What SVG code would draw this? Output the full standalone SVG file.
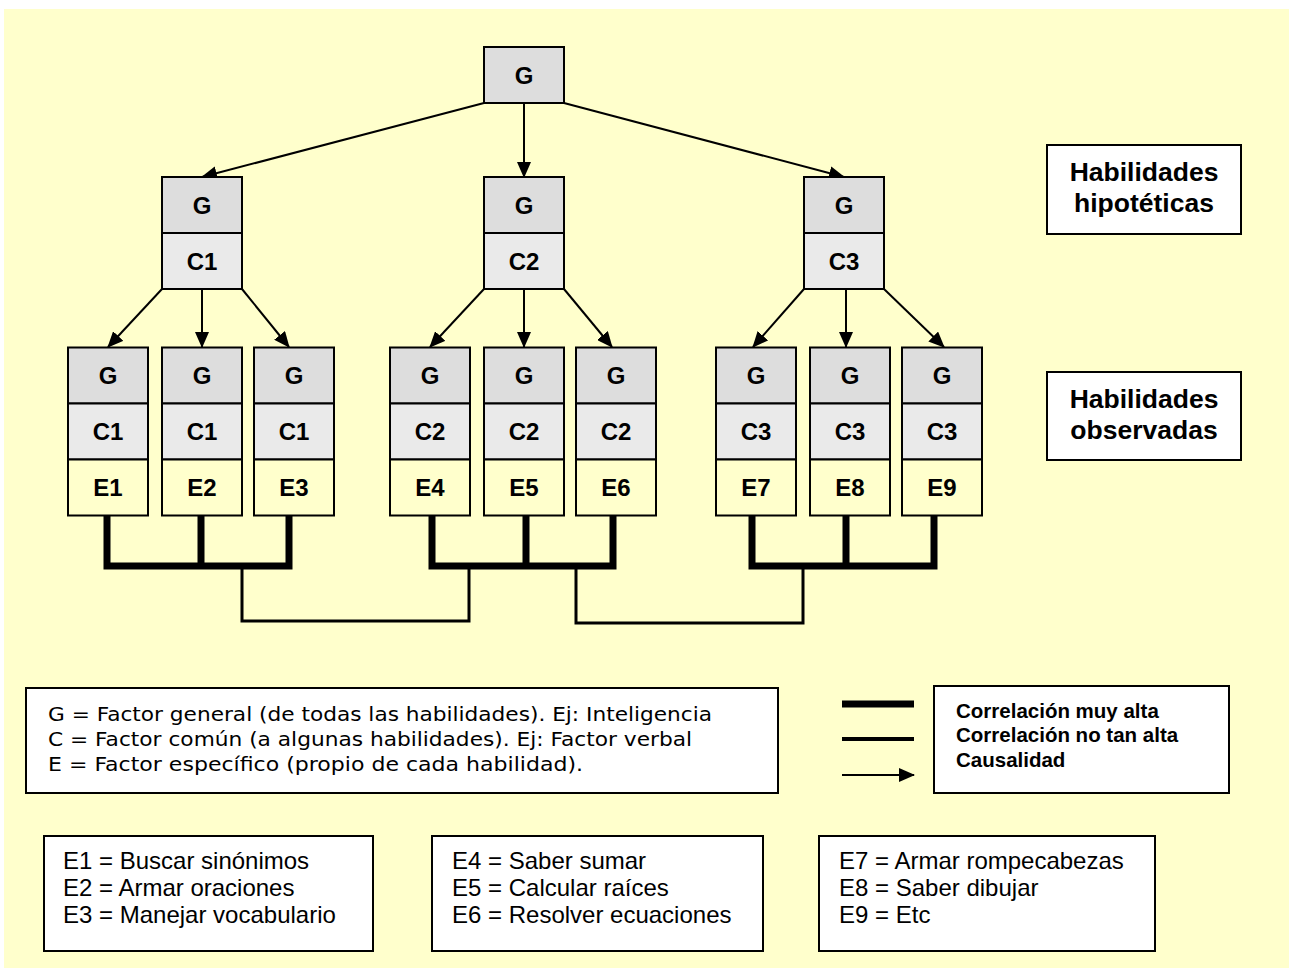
<svg xmlns="http://www.w3.org/2000/svg" width="1289" height="968" viewBox="0 0 1289 968">
<defs>
<style>
.bg{fill:#FFFFCC}
.g{fill:#DDDDDD;stroke:#000;stroke-width:2}
.c{fill:#EAEAEA;stroke:#000;stroke-width:2}
.e{fill:#FFFFCC;stroke:#000;stroke-width:2}
.box{fill:#FFFFFF;stroke:#000;stroke-width:2}
.lbl{font-family:"Liberation Sans",Arial,sans-serif;font-weight:bold;font-size:24px;text-anchor:middle;fill:#000}
.hab{font-family:"Liberation Sans",Arial,sans-serif;font-weight:bold;font-size:26.5px;text-anchor:middle;fill:#000}
.leg{font-family:"DejaVu Sans",Verdana,sans-serif;font-size:20px;fill:#000}
.corr{font-family:"Liberation Sans",Arial,sans-serif;font-weight:bold;font-size:20.5px;fill:#000}
.ex{font-family:"Liberation Sans",Arial,sans-serif;font-size:24px;fill:#000}
.arrow{stroke:#000;stroke-width:2;fill:none;marker-end:url(#ah)}
.thick{stroke:#000;stroke-width:7;fill:none;stroke-linecap:square}
.thin{stroke:#000;stroke-width:3;fill:none;stroke-linecap:square}
</style>
<marker id="ah" markerUnits="userSpaceOnUse" markerWidth="16" markerHeight="14" refX="15" refY="7" orient="auto">
<path d="M0,0 L16,7 L0,14 Z" fill="#000"/>
</marker>
</defs>
<rect class="bg" x="4" y="9" width="1285" height="959"/>

<g id="connectors">
<line class="arrow" x1="484" y1="103" x2="202" y2="177"/>
<line class="arrow" x1="524" y1="103" x2="524" y2="177"/>
<line class="arrow" x1="564" y1="103" x2="844" y2="177"/>
<line class="arrow" x1="162" y1="289" x2="108" y2="347"/>
<line class="arrow" x1="202" y1="289" x2="202" y2="347"/>
<line class="arrow" x1="242" y1="289" x2="289" y2="347"/>
<line class="arrow" x1="484" y1="289" x2="430" y2="347"/>
<line class="arrow" x1="524" y1="289" x2="524" y2="347"/>
<line class="arrow" x1="564" y1="289" x2="612" y2="347"/>
<line class="arrow" x1="804" y1="289" x2="753" y2="347"/>
<line class="arrow" x1="846" y1="289" x2="846" y2="347"/>
<line class="arrow" x1="884" y1="289" x2="944" y2="347"/>
<path class="thick" d="M107,518 V566 H289 V518 M201,518 V566"/>
<path class="thick" d="M432,518 V566 H613 V518 M526,518 V566"/>
<path class="thick" d="M752,518 V566 H934 V518 M846,518 V566"/>
<path class="thin" d="M242,570 V621 H469 V570"/>
<path class="thin" d="M576,570 V623 H803 V570"/>
</g>

<g id="top">
<rect class="g" x="484" y="47" width="80" height="56"/>
<text class="lbl" x="524" y="84">G</text>
</g>

<g id="mid1">
<rect class="g" x="162" y="177" width="80" height="56"/>
<rect class="c" x="162" y="233" width="80" height="56"/>
<text class="lbl" x="202" y="214">G</text>
<text class="lbl" x="202" y="270">C1</text>
</g>
<g id="mid2">
<rect class="g" x="484" y="177" width="80" height="56"/>
<rect class="c" x="484" y="233" width="80" height="56"/>
<text class="lbl" x="524" y="214">G</text>
<text class="lbl" x="524" y="270">C2</text>
</g>
<g id="mid3">
<rect class="g" x="804" y="177" width="80" height="56"/>
<rect class="c" x="804" y="233" width="80" height="56"/>
<text class="lbl" x="844" y="214">G</text>
<text class="lbl" x="844" y="270">C3</text>
</g>

<g id="obs1">
<rect class="g" x="68" y="347.5" width="80" height="56"/>
<rect class="c" x="68" y="403.5" width="80" height="56"/>
<rect class="e" x="68" y="459.5" width="80" height="56"/>
<text class="lbl" x="108" y="384">G</text>
<text class="lbl" x="108" y="440">C1</text>
<text class="lbl" x="108" y="496">E1</text>
</g>
<g id="obs2">
<rect class="g" x="162" y="347.5" width="80" height="56"/>
<rect class="c" x="162" y="403.5" width="80" height="56"/>
<rect class="e" x="162" y="459.5" width="80" height="56"/>
<text class="lbl" x="202" y="384">G</text>
<text class="lbl" x="202" y="440">C1</text>
<text class="lbl" x="202" y="496">E2</text>
</g>
<g id="obs3">
<rect class="g" x="254" y="347.5" width="80" height="56"/>
<rect class="c" x="254" y="403.5" width="80" height="56"/>
<rect class="e" x="254" y="459.5" width="80" height="56"/>
<text class="lbl" x="294" y="384">G</text>
<text class="lbl" x="294" y="440">C1</text>
<text class="lbl" x="294" y="496">E3</text>
</g>
<g id="obs4">
<rect class="g" x="390" y="347.5" width="80" height="56"/>
<rect class="c" x="390" y="403.5" width="80" height="56"/>
<rect class="e" x="390" y="459.5" width="80" height="56"/>
<text class="lbl" x="430" y="384">G</text>
<text class="lbl" x="430" y="440">C2</text>
<text class="lbl" x="430" y="496">E4</text>
</g>
<g id="obs5">
<rect class="g" x="484" y="347.5" width="80" height="56"/>
<rect class="c" x="484" y="403.5" width="80" height="56"/>
<rect class="e" x="484" y="459.5" width="80" height="56"/>
<text class="lbl" x="524" y="384">G</text>
<text class="lbl" x="524" y="440">C2</text>
<text class="lbl" x="524" y="496">E5</text>
</g>
<g id="obs6">
<rect class="g" x="576" y="347.5" width="80" height="56"/>
<rect class="c" x="576" y="403.5" width="80" height="56"/>
<rect class="e" x="576" y="459.5" width="80" height="56"/>
<text class="lbl" x="616" y="384">G</text>
<text class="lbl" x="616" y="440">C2</text>
<text class="lbl" x="616" y="496">E6</text>
</g>
<g id="obs7">
<rect class="g" x="716" y="347.5" width="80" height="56"/>
<rect class="c" x="716" y="403.5" width="80" height="56"/>
<rect class="e" x="716" y="459.5" width="80" height="56"/>
<text class="lbl" x="756" y="384">G</text>
<text class="lbl" x="756" y="440">C3</text>
<text class="lbl" x="756" y="496">E7</text>
</g>
<g id="obs8">
<rect class="g" x="810" y="347.5" width="80" height="56"/>
<rect class="c" x="810" y="403.5" width="80" height="56"/>
<rect class="e" x="810" y="459.5" width="80" height="56"/>
<text class="lbl" x="850" y="384">G</text>
<text class="lbl" x="850" y="440">C3</text>
<text class="lbl" x="850" y="496">E8</text>
</g>
<g id="obs9">
<rect class="g" x="902" y="347.5" width="80" height="56"/>
<rect class="c" x="902" y="403.5" width="80" height="56"/>
<rect class="e" x="902" y="459.5" width="80" height="56"/>
<text class="lbl" x="942" y="384">G</text>
<text class="lbl" x="942" y="440">C3</text>
<text class="lbl" x="942" y="496">E9</text>
</g>

<g id="hipoteticas">
<rect class="box" x="1047" y="145" width="194" height="89"/>
<text class="hab" x="1144" y="181">Habilidades</text>
<text class="hab" x="1144" y="212">hipotéticas</text>
</g>
<g id="observadas">
<rect class="box" x="1047" y="372" width="194" height="88"/>
<text class="hab" x="1144" y="408">Habilidades</text>
<text class="hab" x="1144" y="439">observadas</text>
</g>

<g id="legend-factors">
<rect class="box" x="26" y="688" width="752" height="105"/>
<text class="leg" x="48" y="721" textLength="664" lengthAdjust="spacingAndGlyphs">G = Factor general (de todas las habilidades). Ej: Inteligencia</text>
<text class="leg" x="48" y="746" textLength="644" lengthAdjust="spacingAndGlyphs">C = Factor común (a algunas habilidades). Ej: Factor verbal</text>
<text class="leg" x="48" y="771" textLength="535" lengthAdjust="spacingAndGlyphs">E = Factor específico (propio de cada habilidad).</text>
</g>

<g id="legend-lines">
<line x1="842" y1="704" x2="914" y2="704" stroke="#000" stroke-width="7"/>
<line x1="842" y1="739" x2="914" y2="739" stroke="#000" stroke-width="4"/>
<line class="arrow" x1="842" y1="775" x2="914" y2="775"/>
<rect class="box" x="934" y="686" width="295" height="107"/>
<text class="corr" x="956" y="718">Correlación muy alta</text>
<text class="corr" x="956" y="742">Correlación no tan alta</text>
<text class="corr" x="956" y="767">Causalidad</text>
</g>

<g id="ex1">
<rect class="box" x="44" y="836" width="329" height="115"/>
<text class="ex" x="63" y="869">E1 = Buscar sinónimos</text>
<text class="ex" x="63" y="896">E2 = Armar oraciones</text>
<text class="ex" x="63" y="923">E3 = Manejar vocabulario</text>
</g>
<g id="ex2">
<rect class="box" x="432" y="836" width="331" height="115"/>
<text class="ex" x="452" y="869">E4 = Saber sumar</text>
<text class="ex" x="452" y="896">E5 = Calcular raíces</text>
<text class="ex" x="452" y="923">E6 = Resolver ecuaciones</text>
</g>
<g id="ex3">
<rect class="box" x="819" y="836" width="336" height="115"/>
<text class="ex" x="839" y="869">E7 = Armar rompecabezas</text>
<text class="ex" x="839" y="896">E8 = Saber dibujar</text>
<text class="ex" x="839" y="923">E9 = Etc</text>
</g>
</svg>
